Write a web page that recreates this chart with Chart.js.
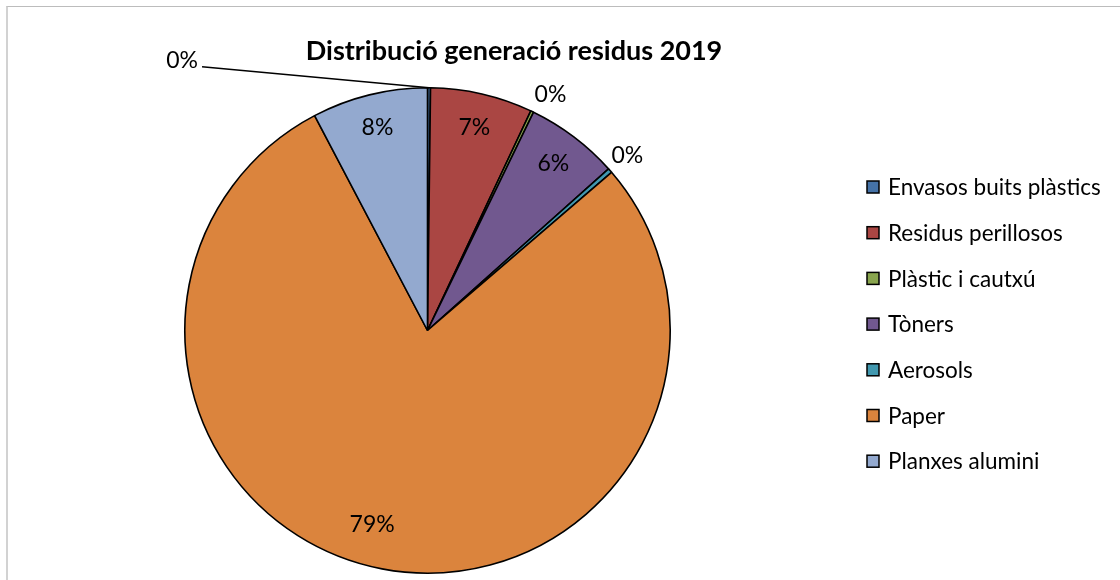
<!DOCTYPE html>
<html>
<head>
<meta charset="utf-8">
<script src="https://cdn.jsdelivr.net/npm/chart.js@4.4.1/dist/chart.umd.min.js"></script>
<style>
  body { margin: 0; background: #fff; overflow: hidden; }
  #frame { position: absolute; left: 6px; top: 6px; width: 1200px; height: 700px;
           border-top: 1px solid #bcbcbc; border-left: 2px solid #d2d2d2; }
  canvas { position: absolute; left: 0; top: 0; }
</style>
</head>
<body>
<div id="frame"></div>
<canvas id="chart" width="1120" height="580"></canvas>
<script>
const title = "Distribució generació residus 2019";
const labels = ["Envasos buits plàstics", "Residus perillosos", "Plàstic i cautxú", "Tòners", "Aerosols", "Paper", "Planxes alumini"];
const values = [0.2, 6.8, 0.2, 6.2, 0.3, 78.6, 7.7];
const colors = ["#4572A7", "#AA4643", "#89A54E", "#71588F", "#4198AF", "#DB843D", "#93A9CF"];

const FONT = "Lato, 'Open Sans', sans-serif";

// percent labels, Excel style (small ones outside)
const sliceLabels = {
    id: "sliceLabels",
    afterDatasetsDraw(chart) {
        let ctx = chart.ctx;
        let meta = chart.getDatasetMeta(0);
        let total = values.reduce((a, b) => a + b, 0);
        ctx.save();
        ctx.font = "23px " + FONT;
        ctx.fillStyle = "#000";
        ctx.textAlign = "center";
        ctx.textBaseline = "middle";
        meta.data.forEach((arc, i) => {
            let p = arc.getProps(["x", "y", "startAngle", "endAngle", "outerRadius"], true);
            let mid = (p.startAngle + p.endAngle) / 2;
            let txt = Math.round(values[i] / total * 100) + "%";
            if (i === 0) {
                // leader line to the label on the left
                let sx = p.x + Math.cos(mid) * p.outerRadius;
                let sy = p.y + Math.sin(mid) * p.outerRadius;
                ctx.strokeStyle = "#000";
                ctx.lineWidth = 1.5;
                ctx.beginPath();
                ctx.moveTo(sx, sy);
                ctx.lineTo(sx - 227, sy - 21);
                ctx.stroke();
                ctx.textAlign = "right";
                ctx.fillText(txt, sx - 231, sy - 27);
                ctx.textAlign = "center";
                return;
            }
            let r;
            let a = mid;
            if (values[i] / total < 0.01) {
                r = p.outerRadius + 23;
                if (i === 2) a = mid + 0.035;
            }
            else if (values[i] / total > 0.5) { r = p.outerRadius * 0.83; a = mid + 0.09; }
            else r = p.outerRadius * 0.86;
            ctx.fillText(txt, p.x + Math.cos(a) * r, p.y + Math.sin(a) * r);
        });
        ctx.restore();
    }
};

const sideLegend = {
    id: "sideLegend",
    afterDraw(chart) {
        let ctx = chart.ctx;
        ctx.save();
        // title
        ctx.font = "bold 27px " + FONT;
        ctx.fillStyle = "#000";
        ctx.textAlign = "center";
        ctx.textBaseline = "middle";
        ctx.fillText(title, 514, 51);
        // legend
        ctx.font = "22.5px " + FONT;
        ctx.textAlign = "left";
        chart.data.labels.forEach((lab, i) => {
            let y = 187 + i * 45.7;
            ctx.fillStyle = colors[i];
            ctx.fillRect(867, y - 6, 12, 12);
            ctx.strokeStyle = "#000";
            ctx.lineWidth = 1.5;
            ctx.strokeRect(867, y - 6, 12, 12);
            ctx.fillStyle = "#000";
            ctx.fillText(lab, 888, y + 1);
        });
        ctx.restore();
    }
};

new Chart(document.getElementById("chart"), {
    type: "pie",
    data: {
        labels: labels,
        datasets: [{
            data: values,
            backgroundColor: colors,
            borderColor: "#000",
            borderWidth: 1.6
        }]
    },
    options: {
        responsive: false,
        animation: false,
        layout: { padding: { top: 87, bottom: 6, left: 184, right: 449 } },
        plugins: {
            legend: { display: false },
            tooltip: { enabled: false }
        }
    },
    plugins: [sliceLabels, sideLegend]
});
</script>
</body>
</html>
